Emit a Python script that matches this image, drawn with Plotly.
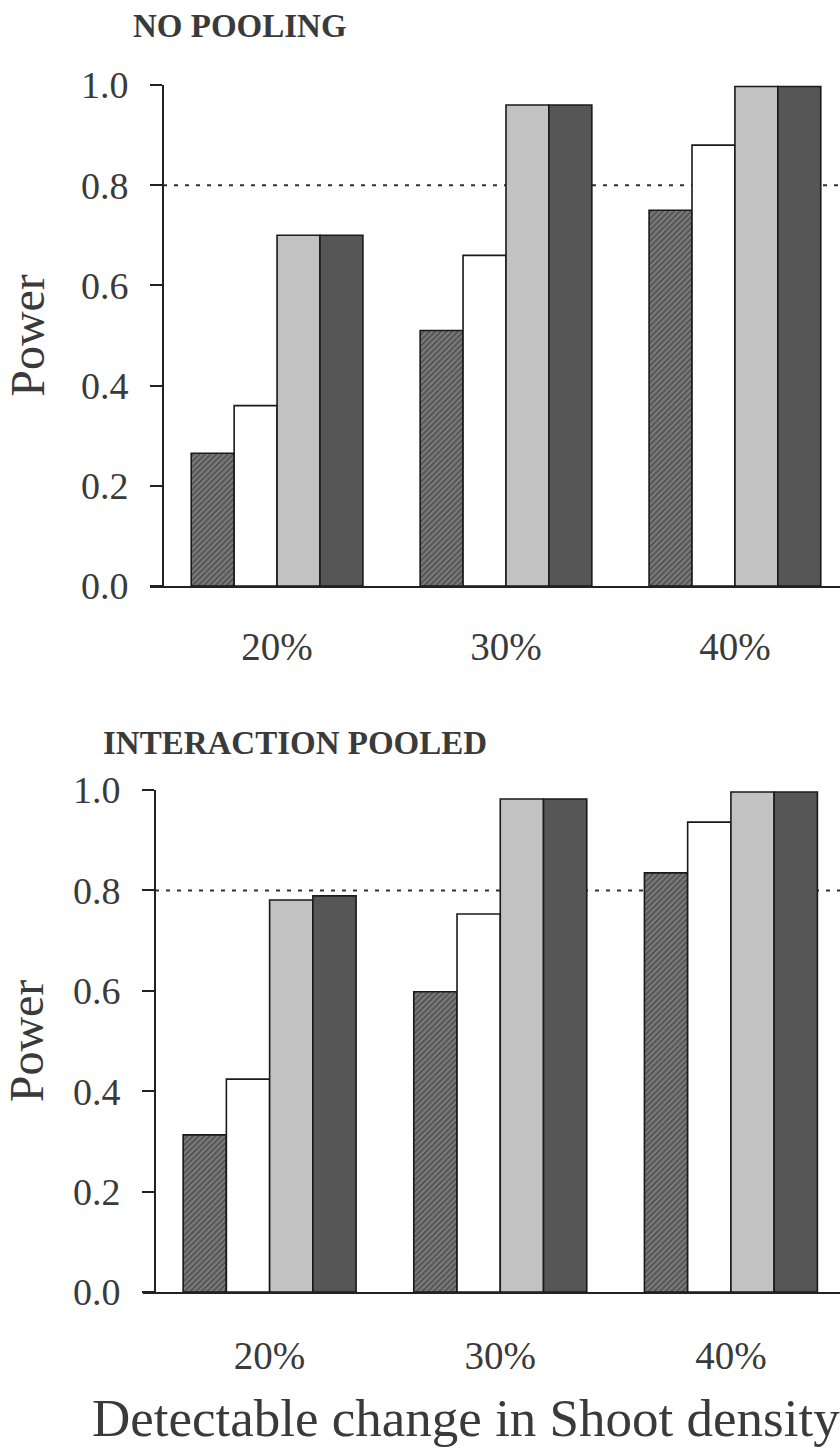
import plotly.graph_objects as go

categories = ["20%", "30%", "40%"]
series_names = ["Design 1", "Design 2", "Design 3", "Design 4"]

# NO POOLING
top_s1 = [0.265, 0.51, 0.75]
top_s2 = [0.36, 0.66, 0.88]
top_s3 = [0.70, 0.96, 0.997]
top_s4 = [0.70, 0.96, 0.997]

# INTERACTION POOLED
bot_s1 = [0.313, 0.598, 0.835]
bot_s2 = [0.424, 0.753, 0.936]
bot_s3 = [0.781, 0.982, 0.996]
bot_s4 = [0.789, 0.982, 0.996]

threshold = 0.8
y_ticks = [0.0, 0.2, 0.4, 0.6, 0.8, 1.0]
panel_titles = ["NO POOLING", "INTERACTION POOLED"]
x_title = "Detectable change in Shoot density"
y_title = "Power"

FONT = "Liberation Serif"
W, H = 840, 1455
TXT = "#3a3a3a"

styles = [
    dict(color="#6e6e6e", pattern=dict(shape="/", size=4, solidity=0.4, fgcolor="#222222", bgcolor="#7a7a7a")),
    dict(color="#ffffff"),
    dict(color="#c2c2c2"),
    dict(color="#565656"),
]

fig = go.Figure()
top_data = [top_s1, top_s2, top_s3, top_s4]
bot_data = [bot_s1, bot_s2, bot_s3, bot_s4]
for i in range(4):
    fig.add_trace(go.Bar(x=categories, y=top_data[i], name=series_names[i],
                         marker=dict(line=dict(color="#1a1a1a", width=1.6), **styles[i]),
                         xaxis="x", yaxis="y", showlegend=False))
for i in range(4):
    fig.add_trace(go.Bar(x=categories, y=bot_data[i], name=series_names[i],
                         marker=dict(line=dict(color="#1a1a1a", width=1.6), **styles[i]),
                         xaxis="x2", yaxis="y2", showlegend=False))

def py(pix):
    return 1 - pix / H

def px(pix):
    return pix / W

axis_common = dict(showline=True, linecolor="#222", linewidth=2, showgrid=False, zeroline=False,
                   automargin=False)
xfont = dict(family=FONT, size=39, color=TXT)
yfont = dict(family=FONT, size=38, color=TXT)
ytitle = dict(text=y_title, font=dict(family=FONT, size=48, color=TXT), standoff=20)

fig.update_layout(
    width=W, height=H,
    margin=dict(l=0, r=0, t=0, b=0, autoexpand=False),
    paper_bgcolor="white", plot_bgcolor="white",
    barmode="group", bargap=0.25, bargroupgap=0,
    font=dict(family=FONT),
    xaxis=dict(domain=[px(150), 1], anchor="y", type="category", range=[-0.555, 2.459],
               ticks="", tickfont=xfont, ticklabelstandoff=25, **axis_common),
    yaxis=dict(domain=[py(586), py(85)], anchor="free", position=px(163), range=[0, 1],
               tickvals=y_ticks, tickformat=".1f", ticks="outside", ticklen=12, tickwidth=2,
               tickcolor="#222", tickfont=yfont, ticklabelstandoff=14,
               title=ytitle, **axis_common),
    xaxis2=dict(domain=[px(143), 1], anchor="y2", type="category", range=[-0.549, 2.473],
                ticks="", tickfont=xfont, ticklabelstandoff=28, **axis_common),
    yaxis2=dict(domain=[py(1292), py(790)], anchor="free", position=px(155), range=[0, 1],
                tickvals=y_ticks, tickformat=".1f", ticks="outside", ticklen=12, tickwidth=2,
                tickcolor="#222", tickfont=yfont, ticklabelstandoff=14,
                title=ytitle, **axis_common),
)

# 0.8 power reference lines, drawn behind the bars
fig.add_shape(type="line", xref="paper", yref="y", x0=px(163), x1=1, y0=threshold, y1=threshold,
              layer="below", line=dict(color="#333", width=2, dash="4px,7px"))
fig.add_shape(type="line", xref="paper", yref="y2", x0=px(155), x1=1, y0=threshold, y1=threshold,
              layer="below", line=dict(color="#333", width=2, dash="4px,7px"))

fig.add_annotation(text=panel_titles[0], xref="paper", yref="paper", x=px(131), y=py(26),
                   xanchor="left", yanchor="middle", showarrow=False,
                   font=dict(family=FONT, size=33, color=TXT, weight="bold"))
fig.add_annotation(text=panel_titles[1], xref="paper", yref="paper", x=px(101), y=py(743),
                   xanchor="left", yanchor="middle", showarrow=False,
                   font=dict(family=FONT, size=33, color=TXT, weight="bold"))
fig.add_annotation(text=x_title, xref="paper", yref="paper", x=px(466), y=py(1418),
                   xanchor="center", yanchor="middle", showarrow=False,
                   font=dict(family=FONT, size=53, color=TXT))

fig.write_html("out.html")
